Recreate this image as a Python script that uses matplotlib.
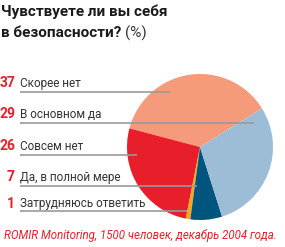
import matplotlib.pyplot as plt

labels = ["Скорее нет", "В основном да", "Совсем нет", "Да, в полной мере", "Затрудняюсь ответить"]
values = [37, 29, 26, 7, 1]
colors = ["#F59A7B", "#9DBDD6", "#E81F2A", "#00557F", "#F7A71B"]
pie_order = [0, 2, 4, 3, 1]   # order of slices around the pie, counterclockwise

title1 = "Чувствуете ли вы себя"
title2 = "в безопасности?"
source = "ROMIR Monitoring, 1500 человек, декабрь 2004 года."

W, H = 285, 247
fig = plt.figure(figsize=(W / 100, H / 100), dpi=100)
ax = fig.add_axes([0, 0, 1, 1])

# pie in pixel coords (y measured from bottom)
ax.pie([values[i] for i in pie_order], colors=[colors[i] for i in pie_order],
       startangle=32, counterclock=True, center=(200, H - 147), radius=73,
       wedgeprops=dict(linewidth=0))

ax.set_xlim(0, W)
ax.set_ylim(0, H)
ax.axis("off")

font = ["Roboto", "DejaVu Sans"]

# label rows: text y, line y, line end x
text_y = [83, 114, 146, 177, 204]
line_y = [92, 123, 155, 186, 211]
line_end = [170, 254, 137, 197, 187]
for i in range(len(labels)):
    ax.text(15, H - text_y[i], str(values[i]), ha="right", va="center", color="#E81F2A",
            fontsize=10, fontweight="bold", family=font)
    ax.text(20, H - text_y[i], labels[i], ha="left", va="center", color="#333333",
            fontsize=8.5, family=font)
    ax.plot([20, line_end[i]], [H - line_y[i], H - line_y[i]], color="#999999", lw=1.2,
            solid_capstyle="butt", zorder=5)

ax.text(1, H - 12, title1, ha="left", va="center", fontsize=11, fontweight="bold",
        color="#1a1a1a", family=font)
t2 = ax.text(1, H - 33, title2, ha="left", va="center", fontsize=11, fontweight="bold",
             color="#1a1a1a", family=font)
# put (%) right after the second title line
fig.canvas.draw()
bb = t2.get_window_extent()
ax.text(bb.x1 + 4, H - 33, "(%)", ha="left", va="center", fontsize=11, color="#333333", family=font)

ax.text(4, H - 236, source, ha="left", va="center", fontsize=8.3, style="italic",
        color="#E81F2A", family=font)

fig.savefig("out.png", dpi=100)
